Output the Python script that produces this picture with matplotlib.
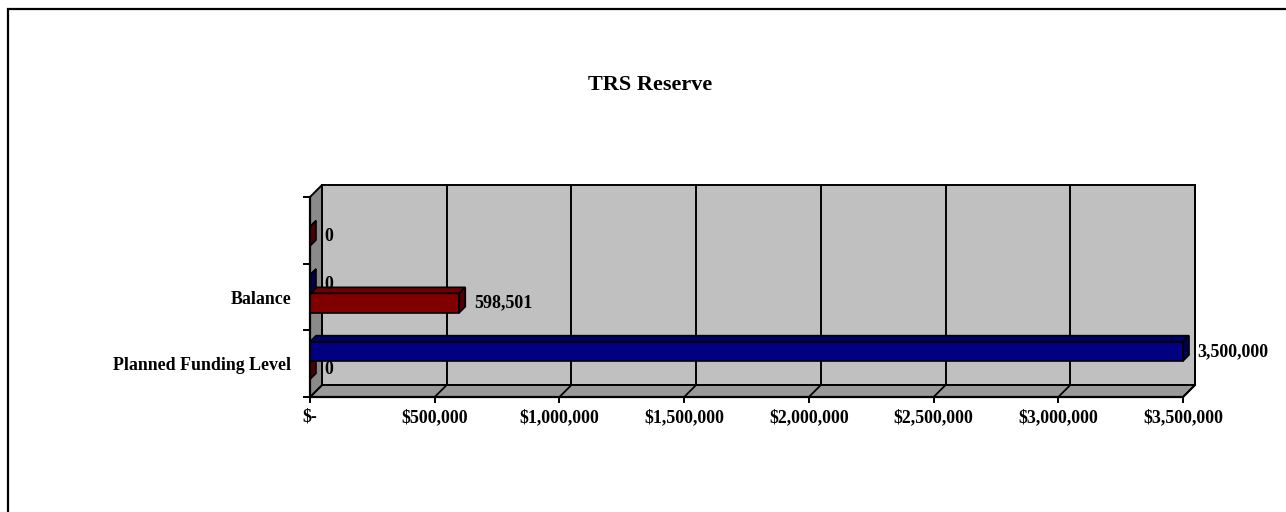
import matplotlib
matplotlib.use("Agg")
import matplotlib.pyplot as plt
from matplotlib.patches import Polygon, Rectangle
from matplotlib.ticker import FuncFormatter
import numpy as np

# ---- data ----
categories = ["Planned Funding Level", "Balance", ""]
series_blue = [3500000, 0, None]
series_red = [0, 598501, 0]
x_ticks = [0, 500000, 1000000, 1500000, 2000000, 2500000, 3000000, 3500000]
title = "TRS Reserve"

FONT = ["Liberation Serif", "DejaVu Serif"]
plt.rcParams['font.family'] = FONT
plt.rcParams['font.weight'] = 'bold'

W, H = 1286, 512
fig = plt.figure(figsize=(W / 100, H / 100), dpi=100)
fig.patch.set_facecolor("white")

# chart border (left & top visible)
fig.patches.append(Rectangle((8 / W, -0.2), 1.5, (1 - 9 / H) + 0.2, transform=fig.transFigure,
                             fill=False, edgecolor="black", linewidth=1.6, zorder=0))

# front plane of plot area in pixels
x0p, x1p, y0p, y1p = 310, 1183, 397, 197
ax = fig.add_axes([x0p / W, 1 - y0p / H, (x1p - x0p) / W, (y0p - y1p) / H])
ax.patch.set_visible(False)
xmax = x_ticks[-1]
ncat = len(categories)
ax.set_xlim(0, xmax)
ax.set_ylim(0, ncat)

px_x = xmax / (x1p - x0p)        # data units per pixel (x)
px_y = ncat / (y0p - y1p)        # data units per pixel (y)
dxw, dyw = 12 * px_x, 12 * px_y  # wall depth
dxb, dyb = 6 * px_x, 6 * px_y    # bar depth

lw = 1.4
# back wall
ax.add_patch(Polygon([(dxw, dyw), (xmax + dxw, dyw), (xmax + dxw, ncat + dyw), (dxw, ncat + dyw)],
                     closed=True, facecolor="#C0C0C0", edgecolor="black", linewidth=lw,
                     clip_on=False, zorder=1))
# floor
ax.add_patch(Polygon([(0, 0), (xmax, 0), (xmax + dxw, dyw), (dxw, dyw)], closed=True,
                     facecolor="#999999", edgecolor="black", linewidth=lw, clip_on=False, zorder=1.5))
# left wall
ax.add_patch(Polygon([(0, 0), (dxw, dyw), (dxw, ncat + dyw), (0, ncat)], closed=True,
                     facecolor="#8A8A8A", edgecolor="black", linewidth=lw, clip_on=False, zorder=1.6))
# gridlines on back wall and floor
for t in x_ticks[1:]:
    ax.plot([t + dxw, t + dxw], [dyw, ncat + dyw], color="black", linewidth=lw,
            clip_on=False, zorder=1.2)
    ax.plot([t, t + dxw], [0, dyw], color="black", linewidth=lw * 0.9,
            clip_on=False, zorder=1.7)


def shade(hexcol, f):
    c = np.array(matplotlib.colors.to_rgb(hexcol)) * f
    return tuple(c)


bar_h = 0.29
offsets = {"blue": 0.54, "red": 0.265}
colors = {"blue": "#000080", "red": "#800000"}


def draw_series(vals, key):
    for i, v in enumerate(vals):
        if v is None:
            continue
        yb = i + offsets[key]
        yt = yb + bar_h
        col = colors[key]
        ax.barh(yb, v, height=bar_h, left=0, align="edge", color=col, edgecolor="black",
                linewidth=1.2, zorder=3, clip_on=False)
        # top face
        ax.add_patch(Polygon([(0, yt), (v, yt), (v + dxb, yt + dyb), (dxb, yt + dyb)], closed=True,
                             facecolor=shade(col, 0.85), edgecolor="black", linewidth=1.2,
                             zorder=3, clip_on=False))
        # end face
        ax.add_patch(Polygon([(v, yb), (v, yt), (v + dxb, yt + dyb), (v + dxb, yb + dyb)], closed=True,
                             facecolor=shade(col, 0.6), edgecolor="black", linewidth=1.2,
                             zorder=3, clip_on=False))
        ax.annotate(f"{v:,.0f}", xy=(v, yb + bar_h / 2), xytext=(10.5, 0), textcoords="offset points",
                    ha="left", va="center", fontsize=12.9, fontweight="bold", color="black",
                    zorder=4, annotation_clip=False)


draw_series(series_red, "red")
draw_series(series_blue, "blue")

# axes / ticks
for s in ["top", "right"]:
    ax.spines[s].set_visible(False)
for s in ["left", "bottom"]:
    ax.spines[s].set_linewidth(1.6)
    ax.spines[s].set_zorder(5)

ax.set_xticks(x_ticks)
ax.xaxis.set_major_formatter(FuncFormatter(lambda v, p: "$-" if v == 0 else f"${v:,.0f}"))
ax.tick_params(axis="x", direction="out", length=4, width=1.4, pad=4.5, labelsize=12.9)
ax.set_yticks(range(ncat + 1))
ax.set_yticklabels([])
ax.set_yticks([i + 0.5 for i in range(ncat)], minor=True)
ax.set_yticklabels(categories, minor=True)
ax.tick_params(axis="y", which="major", direction="out", length=5, width=1.4)
ax.tick_params(axis="y", which="minor", length=0, pad=13.5, labelsize=12.9)
for lab in ax.get_xticklabels() + ax.get_yticklabels(minor=True):
    lab.set_fontweight("bold")

fig.text(650 / W, 1 - 85 / H, title, ha="center", va="center", fontsize=16, fontweight="bold")

fig.savefig("out.png", dpi=100, facecolor="white")
